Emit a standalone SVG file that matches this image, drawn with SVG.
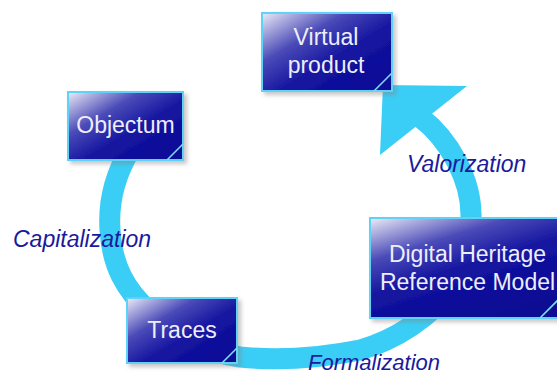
<svg xmlns="http://www.w3.org/2000/svg" width="557" height="374" viewBox="0 0 557 374">
<defs>
<linearGradient id="boxg" x1="0" y1="0" x2="1" y2="1">
<stop offset="0" stop-color="#ececf7"/>
<stop offset="0.32" stop-color="#4a4ab8"/>
<stop offset="0.58" stop-color="#1414a0"/>
<stop offset="1" stop-color="#0a0a94"/>
</linearGradient>
<linearGradient id="boxgw" x1="0" y1="0" x2="0.6" y2="1">
<stop offset="0" stop-color="#ececf7"/>
<stop offset="0.32" stop-color="#4a4ab8"/>
<stop offset="0.58" stop-color="#1414a0"/>
<stop offset="1" stop-color="#0a0a94"/>
</linearGradient>
<filter id="sh" x="-10%" y="-10%" width="130%" height="130%">
<feDropShadow dx="3" dy="3" stdDeviation="2" flood-color="#808080" flood-opacity="0.45"/>
</filter>
</defs>
<style>
.box{stroke:#5fd3f7;stroke-width:2;filter:url(#sh)}
.fold{stroke:#7fdcf8;stroke-width:1.6;fill:none}
.nt{font-family:"Liberation Sans",Arial,sans-serif;font-size:23px;fill:#eeeefa;text-anchor:middle}
.lbl{font-family:"Liberation Sans",Arial,sans-serif;font-size:23px;font-style:italic;fill:#1a1a9c}
.band{fill:none;stroke:#3acdf6;stroke-width:21}
</style>
<g id="connectors">
<path class="band" d="M 130 150 C 115 175, 108 200, 110 230 C 112 265, 125 290, 150 312 C 175 335, 205 352, 240 357 C 280 361, 320 358, 360 350 C 395 340, 430 318, 455 285 C 466 265, 472 240, 471 215 C 471 180, 450 140, 420 117"/>
<polygon points="383,85 467,86 380,155" fill="#3acdf6"/>
</g>
<g id="labels">
<text class="lbl" x="407" y="172">Valorization</text>
<text class="lbl" x="13" y="247">Capitalization</text>
<text class="lbl" x="308" y="370" style="font-size:22px">Formalization</text>
</g>
<g id="virtual-product">
<rect class="box" x="262" y="13" width="130" height="78" fill="url(#boxg)"/>
<line class="fold" x1="374" y1="91" x2="392" y2="73"/>
<text class="nt" x="326" y="45">Virtual</text>
<text class="nt" x="326" y="73">product</text>
</g>
<g id="objectum">
<rect class="box" x="68" y="92" width="115" height="68" fill="url(#boxg)"/>
<line class="fold" x1="167" y1="160" x2="183" y2="144"/>
<text class="nt" x="125.5" y="133">Objectum</text>
</g>
<g id="traces">
<rect class="box" x="127" y="298" width="110" height="65" fill="url(#boxg)"/>
<line class="fold" x1="222" y1="363" x2="237" y2="348"/>
<text class="nt" x="182" y="338">Traces</text>
</g>
<g id="digital-heritage">
<rect class="box" x="370" y="218" width="195" height="100" fill="url(#boxgw)"/>
<line class="fold" x1="540" y1="318" x2="565" y2="293"/>
<text class="nt" x="467.5" y="262">Digital Heritage</text>
<text class="nt" x="467.5" y="290">Reference Model</text>
</g>
</svg>
